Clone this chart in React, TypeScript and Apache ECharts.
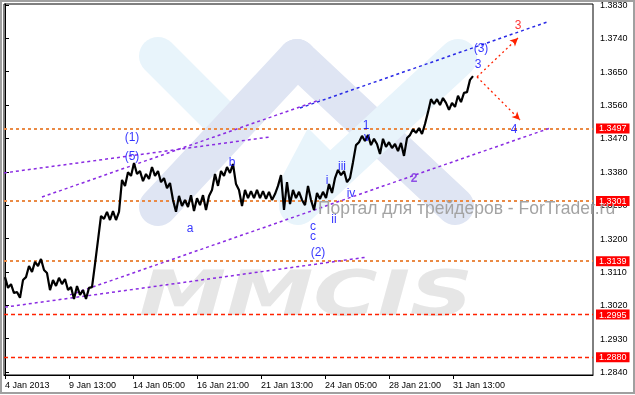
import React, { useEffect, useRef } from "react";
import * as echarts from "echarts";

// ---- data ----
const hourStep = 3; // hours between price samples
const prices = [
  1.3096, 1.3067, 1.3077, 1.3053, 1.3056, 1.3040, 1.3088, 1.3096, 1.3126, 1.3110,
  1.3137, 1.3126, 1.3145, 1.3115, 1.3107, 1.3061, 1.3088, 1.3072, 1.3094, 1.3077,
  1.3091, 1.3061, 1.3069, 1.3037, 1.3072, 1.3048, 1.3061, 1.3037, 1.3067, 1.3069,
  1.3131, 1.3196, 1.3261, 1.3253, 1.3272, 1.3250, 1.3274, 1.3250, 1.3272, 1.3358,
  1.3342, 1.3379, 1.3369, 1.3404, 1.3374, 1.3382, 1.3355, 1.3374, 1.3361, 1.3393,
  1.3369, 1.3382, 1.3352, 1.3363, 1.3336, 1.3350, 1.3304, 1.3272, 1.3315, 1.3288,
  1.3304, 1.3285, 1.3317, 1.3274, 1.3309, 1.3290, 1.3317, 1.3277, 1.3315, 1.3331,
  1.3374, 1.3342, 1.3382, 1.3369, 1.3393, 1.3377, 1.3401, 1.3347, 1.3331, 1.3288,
  1.3331, 1.3309, 1.3328, 1.3309, 1.3331, 1.3309, 1.3328, 1.3307, 1.3326, 1.3304,
  1.3320, 1.3342, 1.3371, 1.3277, 1.3352, 1.3293, 1.3331, 1.3309, 1.3326, 1.3304,
  1.3290, 1.3342, 1.3304, 1.3277, 1.3323, 1.3307, 1.3326, 1.3309, 1.3347, 1.3323,
  1.3363, 1.3385, 1.3371, 1.3382, 1.3352, 1.3363, 1.3406, 1.3452, 1.3460, 1.3477,
  1.3463, 1.3479, 1.3452, 1.3469, 1.3455, 1.3428, 1.3469, 1.3447, 1.3460, 1.3444,
  1.3455, 1.3436, 1.3458, 1.3423, 1.3471, 1.3479, 1.3495, 1.3485, 1.3498, 1.3482,
  1.3509, 1.3541, 1.3576, 1.3563, 1.3576, 1.3560, 1.3579, 1.3566, 1.3547, 1.3566,
  1.3555, 1.3585, 1.3568, 1.3593, 1.3595, 1.3628, 1.3638,
];

const xTickHours = [0, 64, 128, 192, 256, 320, 384, 448];
const xTickLabels = [
  "4 Jan 2013", "9 Jan 13:00", "14 Jan 05:00", "16 Jan 21:00",
  "21 Jan 13:00", "24 Jan 05:00", "28 Jan 21:00", "31 Jan 13:00",
];
const yTicks = [1.2840, 1.2930, 1.3020, 1.3110, 1.3200, 1.3290, 1.3380, 1.3470, 1.3560, 1.3650, 1.3740, 1.3830];

const orangeLevels = [1.3497, 1.3301, 1.3139];
const redLevels = [1.2995, 1.2880];

// trend lines: [startHour, startPrice, endHour, endPrice]
const purpleTrends = [
  [-1, 1.3377, 265, 1.3474],
  [37, 1.3312, 315, 1.3574],
  [0, 1.3015, 362, 1.3150],
  [65, 1.3048, 545, 1.3498],
];
const blueTrends = [[295, 1.3552, 542, 1.3784]];
const arrowStart = [472, 1.3636];
const arrowEnds = [[513, 1.3741], [515, 1.3520]];

const blueLabels = ["(1)", "(5)", "b", "a", "c", "c", "(2)", "i", "iii", "ii", "iv", "1", "v", "3", "(3)", "4"];
const blueLabelPos = [
  [127, 1.3474], [127, 1.3423], [227, 1.3406], [185, 1.3228], [308, 1.3234], [308, 1.3207],
  [313, 1.3164], [322, 1.3358], [337, 1.3396], [329, 1.3253], [346, 1.3323], [361, 1.3506],
  [362, 1.3474], [473, 1.3671], [476, 1.3714], [509, 1.3495],
];
const purpleLabels = ["2"];
const purpleLabelPos = [[409, 1.3363]];
const redLabels = ["3"];
const redLabelPos = [[513, 1.3776]];

// ---- styles ----
const PURPLE = "#8a2be2";
const BLUE = "#2a2ae6";
const ORANGE = "#ea8a45";
const RED = "#ff2200";
const FONT = "Liberation Sans";

export default function App() {
  const ref = useRef<HTMLDivElement>(null);
  useEffect(() => {
    if (!ref.current) return;
    const chart = echarts.init(ref.current, undefined, { renderer: "svg" });

    const levelLabel = {
      show: true,
      position: "end",
      distance: 3,
      formatter: (p: any) => Number(p.value).toFixed(4),
      backgroundColor: "#ff0000",
      color: "#ffffff",
      padding: [1, 3, 0, 3],
      fontSize: 9,
      fontFamily: FONT,
    };

    const markData: any[] = [];
    orangeLevels.forEach((v) =>
      markData.push({ yAxis: v, lineStyle: { color: ORANGE, width: 2, type: [3, 3] }, label: levelLabel })
    );
    redLevels.forEach((v) =>
      markData.push({ yAxis: v, lineStyle: { color: RED, width: 1.3, type: [4, 3] }, label: levelLabel })
    );
    const trendItem = (t: number[], color: string) => [
      { coord: [t[0], t[1]], symbol: "none", lineStyle: { color, width: 1.5, type: [3, 3] }, label: { show: false } },
      { coord: [t[2], t[3]], symbol: "none" },
    ];
    purpleTrends.forEach((t) => markData.push(trendItem(t, PURPLE)));
    blueTrends.forEach((t) => markData.push(trendItem(t, BLUE)));
    arrowEnds.forEach((e) =>
      markData.push([
        { coord: arrowStart, symbol: "none", lineStyle: { color: RED, width: 1.3, type: [2, 3] }, label: { show: false } },
        { coord: e, symbol: "arrow", symbolSize: [6, 8] },
      ])
    );

    const labelItems: any[] = [];
    blueLabels.forEach((t, i) => labelItems.push({ name: t, value: blueLabelPos[i], label: { color: "#0000ff" } }));
    purpleLabels.forEach((t, i) =>
      labelItems.push({ name: t, value: purpleLabelPos[i], label: { color: "#7a2be2", fontWeight: "bold" } })
    );
    redLabels.forEach((t, i) => labelItems.push({ name: t, value: redLabelPos[i], label: { color: "#ff0000" } }));

    const LB = "#e8f4fb";
    const GB = "#dfe5f3";
    const band = (x1: number, y1: number, x2: number, y2: number, color: string, w = 38) => ({
      type: "line",
      z: -10,
      silent: true,
      shape: { x1, y1, x2, y2 },
      style: { stroke: color, lineWidth: w, lineCap: "round" },
    });

    chart.setOption({
      animation: false,
      grid: { left: 4, right: 42, top: 4, bottom: 20, show: true, borderColor: "#000", borderWidth: 1, backgroundColor: "transparent" },
      xAxis: {
        type: "value",
        min: -1,
        max: 588,
        axisLine: { show: true, lineStyle: { color: "#000" } },
        axisTick: { show: true, customValues: xTickHours, length: 4, lineStyle: { color: "#000" } },
        axisLabel: {
          customValues: xTickHours,
          formatter: (v: number) => xTickLabels[xTickHours.indexOf(v)] ?? "",
          align: "left",
          fontSize: 9,
          fontFamily: FONT,
          color: "#000",
          margin: 5,
        },
        splitLine: { show: false },
      },
      yAxis: {
        type: "value",
        position: "right",
        min: 1.28319,
        max: 1.38327,
        axisLine: { show: true, lineStyle: { color: "#000" } },
        axisTick: { show: true, customValues: yTicks, length: 4, lineStyle: { color: "#000" } },
        axisLabel: {
          customValues: yTicks,
          formatter: (v: number) => v.toFixed(4),
          fontSize: 9,
          fontFamily: FONT,
          color: "#000",
          margin: 7,
        },
        splitLine: { show: false },
      },
      graphic: [
        { type: "rect", silent: true, z: 100, shape: { x: 1, y: 1, width: 633, height: 392 }, style: { fill: "none", stroke: "#a0a0a0", lineWidth: 2 } },
        band(158, 56, 226, 124, LB),
        band(297, 58, 455, 206, GB),
        band(297, 58, 158, 207, GB),
        band(458, 58, 298, 206, LB),
        {
          type: "polygon",
          z: -9,
          silent: true,
          shape: { points: [[308, 128], [340, 160], [300, 222], [272, 196]] },
          style: { fill: LB },
        },
        {
          type: "text",
          z: -8,
          silent: true,
          x: 139,
          y: 325,
          scaleX: 1.39,
          style: {
            text: "MMCIS",
            fill: "#e6e6e6",
            fontSize: 63,
            fontWeight: "bold",
            fontStyle: "italic",
            fontFamily: "DejaVu Sans",
            align: "left",
            verticalAlign: "bottom",
          },
        },
        {
          type: "text",
          z: 50,
          silent: true,
          x: 318,
          y: 208,
          style: {
            text: "Портал для трейдеров - ForTrader.ru",
            fill: "#a3a3a3",
            fontSize: 17.5,
            fontFamily: FONT,
            align: "left",
            verticalAlign: "middle",
          },
        },
      ],
      series: [
        {
          type: "line",
          data: prices.map((p, i) => [i * hourStep, p]),
          showSymbol: false,
          lineStyle: { color: "#000", width: 2.2 },
          z: 5,
          markLine: { silent: true, precision: 4, symbol: ["none", "none"], animation: false, data: markData },
        },
        {
          type: "scatter",
          data: labelItems,
          symbolSize: 1,
          itemStyle: { color: "transparent" },
          z: 6,
          label: { show: true, formatter: "{b}", position: "inside", fontSize: 12, fontFamily: FONT },
        },
      ],
    });
    return () => chart.dispose();
  }, []);
  return <div ref={ref} style={{ position: "fixed", left: 0, top: 0, width: 635, height: 395 }} />;
}
